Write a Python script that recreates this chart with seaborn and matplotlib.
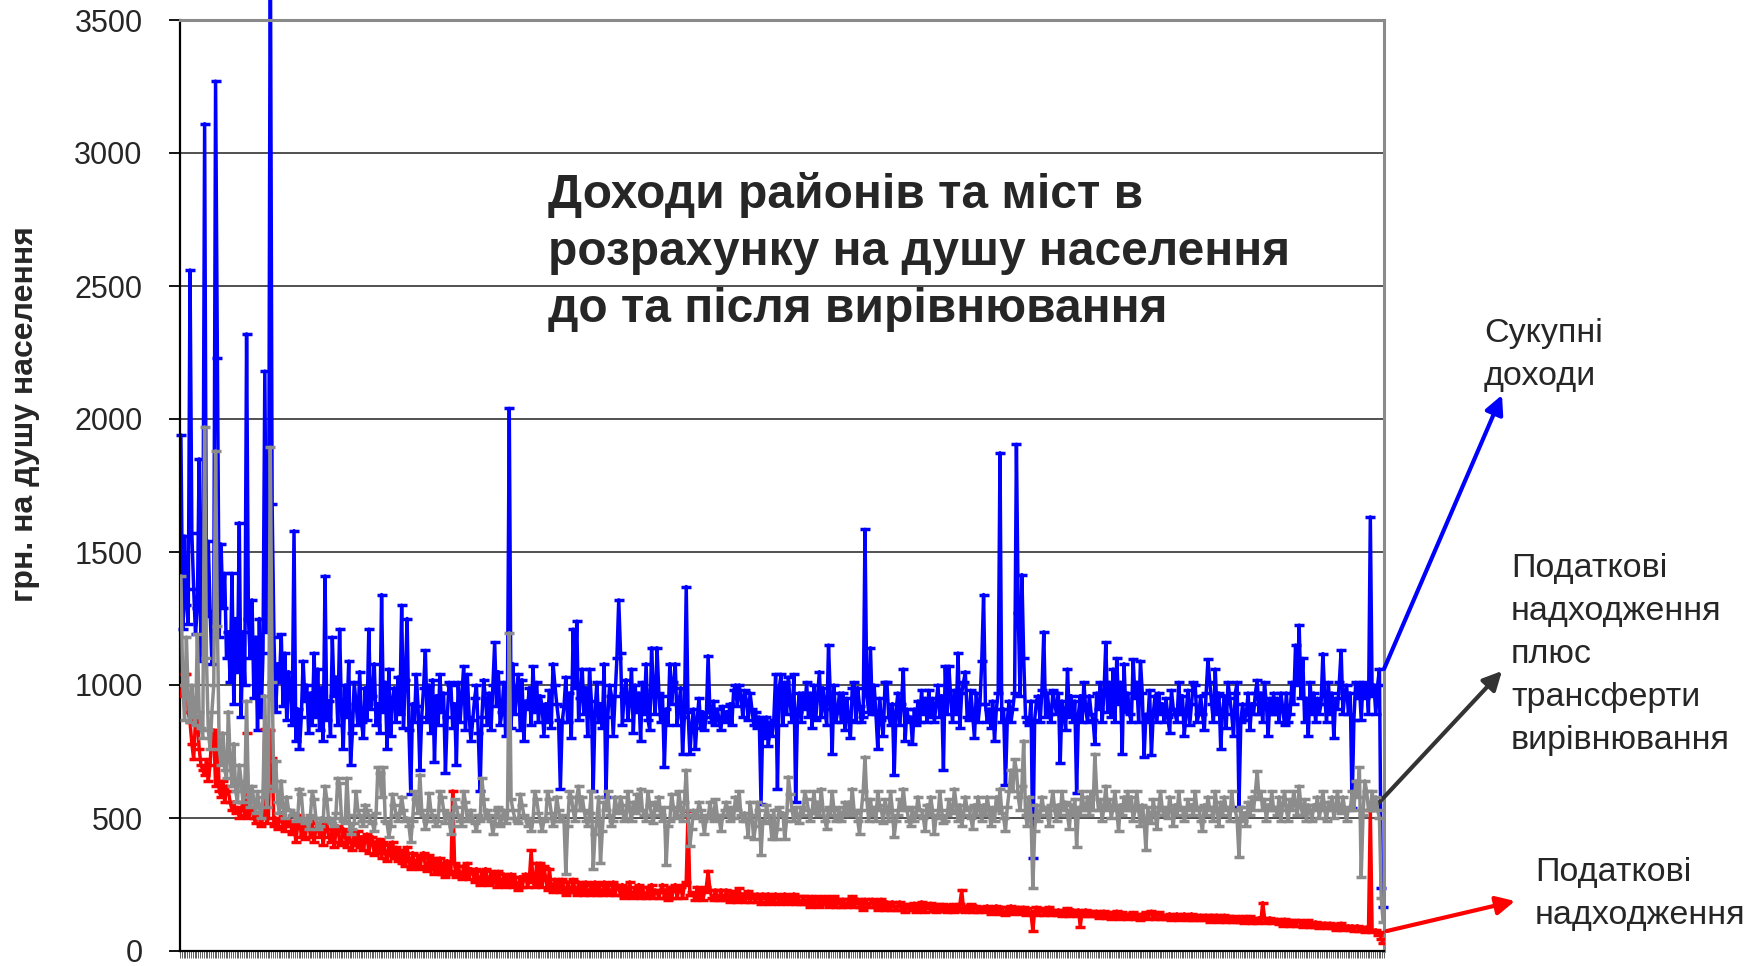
import numpy as np
import pandas as pd
import matplotlib
matplotlib.use("Agg")
import matplotlib.pyplot as plt
import seaborn as sns

# Per-capita revenues of districts and cities, UAH per person
total_income = [
    1940, 1210, 1560, 1300, 1230, 2560, 1570, 1360, 1190, 1290, 1850, 1090, 1320, 3110, 1260, 1540, 1280, 1080, 1250, 3270,
    2230, 1180, 1530, 1290, 1420, 1100, 1200, 1010, 1420, 930, 1250, 1050, 1610, 880, 1200, 1000, 2320, 1250, 1100, 1320,
    950, 1180, 830, 1250, 880, 1120, 2180, 1200, 1240, 3900, 1680, 1180, 900, 1080, 1010, 1190, 920, 1120, 870, 1050,
    980, 850, 1580, 790, 910, 760, 880, 1090, 940, 1000, 820, 970, 850, 1120, 880, 1060, 830, 990, 790, 1410,
    870, 940, 810, 1180, 960, 1030, 850, 1210, 910, 760, 1000, 880, 1090, 700, 820, 1010, 930, 850, 1050, 860,
    800, 990, 870, 1210, 910, 960, 1080, 850, 930, 820, 1340, 900, 1010, 760, 1060, 810, 940, 990, 860, 1030,
    890, 1300, 840, 1020, 1250, 830, 590, 930, 860, 1040, 920, 680, 880, 990, 1130, 860, 1000, 820, 1020, 710,
    960, 850, 1040, 900, 970, 670, 880, 1010, 1000, 840, 930, 700, 1010, 860, 960, 1070, 830, 1040, 880, 790,
    870, 950, 1000, 820, 600, 880, 1020, 940, 850, 970, 830, 1000, 1160, 920, 1050, 850, 900, 1010, 810, 960,
    2040, 840, 1080, 890, 970, 1040, 830, 1020, 790, 940, 910, 990, 850, 1070, 900, 1010, 860, 960, 920, 810,
    930, 860, 980, 840, 1080, 1000, 930, 870, 610, 860, 920, 1030, 860, 970, 800, 1210, 990, 1240, 870, 950,
    1060, 890, 990, 810, 1060, 940, 600, 900, 1010, 860, 930, 840, 1080, 580, 880, 1000, 960, 810, 960, 1100,
    1320, 1120, 850, 970, 1020, 870, 940, 1060, 820, 1000, 900, 970, 790, 1010, 890, 1080, 870, 830, 1140, 980,
    890, 1140, 970, 860, 960, 690, 910, 850, 1080, 930, 1010, 1080, 850, 930, 990, 740, 880, 1370, 900, 740,
    850, 910, 760, 870, 950, 840, 900, 830, 880, 1110, 900, 860, 940, 850, 910, 870, 830, 920, 860, 900,
    870, 930, 850, 980, 1000, 920, 1000, 960, 880, 980, 940, 870, 970, 910, 850, 900, 840, 880, 553, 870,
    800, 880, 770, 860, 810, 870, 1040, 610, 990, 1040, 850, 1010, 890, 1030, 930, 860, 1040, 560, 900, 970,
    860, 970, 910, 1010, 880, 970, 840, 1000, 870, 960, 1050, 880, 990, 910, 850, 1150, 960, 740, 1000, 860,
    900, 970, 860, 970, 830, 950, 870, 800, 990, 1010, 860, 990, 920, 860, 880, 1585, 960, 900, 1140, 890,
    1000, 890, 760, 950, 870, 810, 1010, 1010, 880, 850, 930, 660, 900, 970, 850, 930, 1060, 790, 910, 860,
    880, 780, 910, 850, 940, 860, 980, 890, 950, 860, 980, 880, 950, 860, 930, 1000, 880, 960, 680, 1070,
    890, 1070, 950, 860, 980, 890, 1120, 840, 970, 1010, 1050, 880, 870, 980, 890, 800, 970, 860, 930, 1090,
    1340, 930, 860, 910, 840, 940, 790, 910, 970, 1873, 860, 910, 623, 870, 940, 860, 910, 970, 1905, 1270,
    960, 1415, 1100, 880, 860, 850, 940, 350, 870, 940, 960, 860, 980, 1200, 880, 970, 890, 860, 980, 930,
    890, 970, 707, 940, 890, 830, 1060, 880, 960, 860, 940, 595, 890, 960, 860, 1010, 910, 860, 960, 890,
    870, 780, 970, 910, 1010, 860, 970, 1160, 900, 1010, 880, 1060, 860, 1100, 930, 1010, 742, 1080, 900, 970,
    890, 860, 1096, 950, 1010, 860, 1090, 970, 731, 890, 860, 980, 735, 890, 960, 860, 970, 890, 930, 860,
    950, 880, 820, 980, 910, 890, 860, 1010, 890, 960, 810, 890, 980, 850, 930, 1010, 1000, 860, 890, 960,
    890, 830, 970, 1096, 1010, 930, 860, 1060, 890, 970, 760, 900, 960, 840, 1010, 950, 890, 810, 970, 1010,
    540, 860, 930, 870, 890, 970, 830, 930, 890, 970, 1018, 890, 970, 860, 1010, 930, 810, 950, 890, 970,
    890, 950, 860, 970, 910, 850, 970, 860, 890, 1010, 930, 1150, 1000, 1225, 950, 1100, 860, 950, 810, 1010,
    890, 970, 860, 950, 890, 930, 1118, 960, 860, 1010, 890, 970, 800, 950, 910, 1010, 1130, 890, 970, 1000,
    890, 970, 539, 870, 1010, 950, 1000, 870, 1010, 950, 1000, 890, 1632, 960, 1000, 890, 1000, 1060, 238, 164,
]

tax_plus_transfers = [
    1410, 1000, 870, 1180, 960, 860, 1000, 880, 850, 1190, 900, 840, 800, 1970, 1100, 830, 760, 900, 1000, 1880,
    1220, 760, 700, 820, 680, 650, 900, 720, 620, 780, 600, 560, 700, 640, 560, 600, 940, 580, 540, 620,
    560, 520, 600, 540, 500, 580, 960, 540, 620, 1894, 1010, 600, 716, 560, 520, 640, 540, 500, 580, 530,
    530, 510, 520, 490, 500, 610, 590, 500, 480, 490, 460, 510, 600, 570, 500, 460, 470, 500, 490, 620,
    570, 490, 500, 480, 470, 520, 650, 630, 500, 490, 480, 650, 510, 440, 460, 480, 600, 530, 510, 490,
    470, 550, 530, 510, 490, 480, 450, 520, 690, 670, 580, 690, 490, 480, 430, 470, 590, 550, 510, 490,
    520, 580, 530, 490, 500, 470, 410, 490, 600, 570, 520, 663, 530, 510, 460, 490, 593, 530, 510, 490,
    470, 490, 600, 580, 530, 480, 520, 510, 440, 470, 570, 540, 510, 490, 470, 600, 560, 490, 500, 530,
    490, 480, 450, 510, 490, 650, 570, 500, 530, 510, 490, 440, 480, 530, 540, 470, 500, 530, 480, 500,
    1196, 570, 530, 500, 490, 480, 590, 550, 510, 500, 470, 490, 450, 490, 600, 570, 520, 490, 450, 490,
    500, 600, 570, 520, 470, 490, 580, 530, 490, 510, 490, 290, 470, 600, 580, 530, 490, 580, 620, 530,
    580, 530, 490, 470, 520, 600, 310, 440, 490, 580, 330, 450, 560, 530, 600, 510, 470, 490, 580, 530,
    520, 580, 550, 490, 500, 600, 530, 490, 560, 520, 590, 530, 610, 530, 510, 490, 600, 550, 510, 480,
    560, 530, 580, 510, 490, 540, 325, 470, 490, 590, 540, 500, 510, 600, 530, 490, 560, 680, 510, 395,
    460, 530, 500, 510, 560, 530, 490, 440, 510, 500, 560, 520, 490, 570, 510, 500, 450, 510, 530, 560,
    510, 490, 540, 500, 580, 530, 600, 510, 490, 520, 490, 430, 560, 510, 420, 470, 560, 530, 360, 490,
    480, 550, 510, 490, 420, 530, 420, 460, 540, 510, 520, 420, 490, 655, 590, 530, 490, 540, 510, 480,
    540, 510, 600, 570, 530, 490, 520, 600, 530, 560, 510, 610, 530, 490, 460, 540, 510, 600, 530, 490,
    500, 540, 490, 510, 560, 520, 560, 510, 610, 530, 520, 490, 440, 530, 600, 730, 570, 490, 570, 510,
    540, 490, 600, 550, 530, 480, 570, 530, 490, 600, 530, 430, 490, 510, 570, 530, 610, 540, 530, 490,
    470, 540, 490, 510, 580, 530, 530, 500, 450, 550, 510, 580, 530, 440, 510, 500, 600, 530, 480, 490,
    510, 570, 530, 520, 610, 550, 490, 550, 470, 510, 580, 530, 540, 500, 460, 550, 510, 580, 530, 490,
    550, 510, 580, 530, 470, 540, 490, 580, 530, 610, 520, 500, 450, 540, 600, 680, 600, 720, 680, 580,
    530, 620, 790, 510, 470, 580, 510, 238, 450, 550, 490, 510, 580, 530, 540, 510, 470, 550, 600, 530,
    490, 550, 510, 600, 530, 560, 510, 460, 550, 510, 570, 392, 540, 510, 600, 530, 530, 580, 510, 600,
    530, 740, 600, 530, 570, 490, 540, 620, 530, 570, 500, 540, 600, 530, 450, 550, 510, 580, 530, 600,
    530, 580, 490, 530, 600, 530, 470, 550, 490, 378, 540, 510, 480, 570, 520, 460, 540, 600, 530, 510,
    540, 500, 580, 530, 470, 550, 510, 600, 530, 540, 490, 510, 570, 530, 550, 510, 600, 530, 540, 490,
    450, 550, 510, 580, 530, 540, 490, 600, 530, 470, 560, 510, 580, 530, 540, 490, 600, 530, 530, 490,
    355, 540, 490, 520, 470, 560, 510, 580, 530, 600, 675, 570, 600, 530, 570, 490, 550, 530, 600, 530,
    540, 510, 580, 490, 550, 600, 530, 490, 570, 530, 600, 550, 510, 620, 540, 510, 570, 490, 550, 530,
    490, 550, 530, 580, 500, 540, 600, 530, 490, 560, 530, 580, 500, 540, 600, 530, 520, 580, 530, 490,
    540, 530, 600, 530, 640, 580, 690, 280, 510, 640, 600, 530, 530, 600, 530, 580, 530, 500, 200, 110,
]

tax_revenue = [
    960, 1000, 1040, 1040, 900, 860, 780, 720, 870, 880, 760, 700, 680, 660, 720, 640, 700, 830, 830, 620,
    820, 600, 580, 640, 560, 620, 600, 560, 530, 560, 520, 540, 500, 530, 560, 510, 820, 500, 520, 540,
    500, 480, 520, 500, 470, 510, 836, 480, 500, 830, 727, 470, 500, 460, 490, 520, 470, 450, 490, 470,
    490, 440, 480, 410, 470, 510, 430, 480, 420, 470, 490, 430, 480, 410, 460, 480, 430, 470, 400, 460,
    480, 430, 410, 460, 390, 450, 470, 410, 400, 460, 440, 390, 450, 410, 380, 440, 400, 450, 390, 430,
    380, 420, 440, 370, 410, 430, 360, 410, 370, 420, 350, 410, 370, 340, 400, 360, 410, 350, 390, 340,
    380, 330, 370, 320, 390, 340, 310, 370, 330, 320, 360, 310, 350, 370, 320, 300, 360, 310, 350, 290,
    340, 300, 350, 290, 330, 280, 340, 300, 290, 602, 330, 280, 320, 290, 270, 320, 280, 330, 270, 310,
    300, 260, 310, 270, 250, 300, 260, 310, 270, 250, 300, 260, 290, 240, 300, 260, 250, 290, 240, 280,
    250, 290, 240, 280, 250, 230, 280, 240, 270, 290, 240, 270, 378, 260, 240, 330, 250, 330, 240, 320,
    270, 230, 310, 240, 220, 270, 230, 260, 220, 270, 230, 210, 260, 230, 220, 270, 230, 210, 260, 220,
    250, 210, 260, 220, 210, 250, 220, 260, 210, 250, 220, 210, 260, 220, 250, 210, 220, 260, 210, 250,
    240, 210, 250, 200, 240, 210, 260, 210, 200, 240, 210, 250, 200, 240, 210, 200, 240, 210, 250, 200,
    230, 220, 200, 230, 250, 200, 230, 190, 240, 200, 230, 250, 200, 230, 240, 200, 250, 260, 525, 210,
    220, 210, 190, 240, 200, 230, 190, 220, 240, 300, 230, 200, 190, 230, 200, 190, 230, 200, 190, 230,
    210, 185, 225, 195, 215, 185, 235, 195, 215, 185, 200, 225, 185, 215, 200, 185, 215, 200, 175, 215,
    205, 185, 215, 175, 205, 185, 215, 200, 175, 205, 185, 215, 190, 175, 205, 185, 215, 175, 205, 185,
    175, 205, 190, 175, 205, 165, 195, 175, 205, 190, 165, 195, 175, 205, 180, 165, 195, 175, 205, 165,
    195, 180, 165, 195, 175, 165, 195, 175, 205, 165, 180, 195, 165, 185, 155, 195, 180, 165, 180, 195,
    165, 185, 155, 170, 195, 165, 155, 185, 170, 155, 185, 170, 155, 170, 185, 155, 170, 145, 175, 160,
    175, 155, 180, 145, 175, 155, 185, 165, 145, 175, 160, 180, 150, 170, 145, 175, 160, 150, 175, 160,
    145, 170, 155, 175, 145, 170, 150, 175, 228, 160, 145, 170, 150, 175, 145, 160, 170, 145, 165, 150,
    165, 145, 170, 150, 140, 165, 145, 170, 150, 140, 165, 145, 135, 165, 145, 170, 140, 160, 145, 165,
    155, 140, 165, 135, 160, 145, 140, 77, 150, 165, 135, 150, 160, 135, 155, 140, 165, 135, 155, 140,
    135, 155, 140, 130, 155, 135, 160, 130, 145, 155, 135, 130, 155, 91, 150, 130, 155, 135, 130, 150,
    140, 130, 150, 125, 145, 130, 150, 125, 145, 130, 120, 145, 125, 150, 130, 120, 145, 125, 140, 120,
    140, 125, 145, 120, 140, 125, 115, 140, 125, 145, 120, 140, 150, 125, 120, 140, 145, 120, 135, 130,
    120, 135, 140, 115, 135, 120, 140, 115, 135, 120, 140, 125, 115, 130, 140, 115, 135, 120, 115, 135,
    130, 115, 135, 120, 110, 135, 115, 130, 135, 110, 130, 115, 135, 110, 130, 115, 110, 130, 115, 110,
    125, 110, 130, 105, 125, 110, 130, 105, 125, 110, 105, 125, 110, 182, 125, 105, 115, 125, 105, 115,
    110, 120, 100, 115, 95, 120, 100, 115, 95, 105, 115, 95, 110, 115, 95, 90, 110, 95, 115, 90,
    105, 90, 110, 95, 85, 105, 90, 105, 85, 95, 105, 85, 100, 80, 100, 85, 105, 80, 95, 90,
    95, 80, 95, 75, 90, 95, 75, 90, 80, 70, 90, 80, 530, 70, 75, 80, 60, 70, 45, 30,
]

y_ticks = [0, 500, 1000, 1500, 2000, 2500, 3000, 3500]

title_lines = ["Доходи районів та міст в",
               "розрахунку на душу населення",
               "до та після вирівнювання"]
label_total = ["Сукупні", "доходи"]
label_equalized = ["Податкові", "надходження", "плюс", "трансферти", "вирівнювання"]
label_tax = ["Податкові", "надходження"]
y_title = "грн. на душу населення"

sns.set_style("white")
plt.rcParams["font.family"] = ["Liberation Sans", "DejaVu Sans"]

W, H = 1760, 966
fig = plt.figure(figsize=(W / 100, H / 100), dpi=100)
ax = fig.add_axes([180 / W, 15 / H, 1204 / W, 931 / H])

blue, red, grey = "#0000ff", "#ff0000", "#8c8c8c"
layers = [
    (total_income, blue, 2, False),
    (tax_revenue, red, 3, True),
    (tax_plus_transfers, grey, 4, True),
]
for vals, col, z, clip in layers:
    df = pd.DataFrame({"idx": np.arange(len(vals)), "val": vals})
    sns.lineplot(data=df, x="idx", y="val", ax=ax, color=col, lw=2.5,
                 marker="_", markersize=7.5, markeredgewidth=2.5,
                 markeredgecolor=col, estimator=None, errorbar=None,
                 zorder=z, clip_on=clip)

n = len(total_income)
ax.set_xlim(-0.5, n - 0.5)
ax.set_ylim(0, 3500)
ax.set_yticks(y_ticks)
ax.set_yticklabels([str(v) for v in y_ticks], fontsize=22)
ax.set_xticks(np.arange(n + 1) - 0.5)
ax.set_xticklabels([])
ax.set_xlabel("")
ax.set_ylabel("")
ax.tick_params(axis="x", direction="out", length=5, width=0.6,
               color="#444444", bottom=True)
ax.tick_params(axis="y", direction="out", length=8, width=1.3,
               color="black", pad=19, left=True)
ax.yaxis.grid(True, color="#222222", lw=1.1)
ax.xaxis.grid(False)
ax.set_axisbelow(True)
for side in ("left", "bottom"):
    ax.spines[side].set_color("black")
    ax.spines[side].set_linewidth(1.6)
for side in ("top", "right"):
    ax.spines[side].set_color("#8a8a8a")
    ax.spines[side].set_linewidth(2.2)

# vertical axis title
fig.text(25 / W, 1 - 414 / H, y_title, rotation=90, fontsize=23,
         fontweight="bold", ha="center", va="center")

# chart heading
for i, line in enumerate(title_lines):
    fig.text(548 / W, 1 - (208 + 57 * i) / H, line, fontsize=34.5,
             fontweight="bold", ha="left", va="baseline")

# series captions
def caption(lines, x_px, y0_px, step=43):
    for i, line in enumerate(lines):
        fig.text(x_px / W, 1 - (y0_px + step * i) / H, line, fontsize=24.5,
                 ha="left", va="baseline")

caption(label_total, 1484, 342)
caption(label_equalized, 1511, 577)
caption(label_tax, 1535, 881)

# pointers from series ends to captions
def pointer(start, tip_px, col):
    ax.annotate("", xy=(tip_px[0], H - tip_px[1]), xycoords="figure pixels",
                xytext=start, textcoords="data", annotation_clip=False,
                arrowprops=dict(arrowstyle="-|>", color=col, lw=3,
                                mutation_scale=28, shrinkA=0, shrinkB=0))

pointer((n - 0.5, total_income[-3]), (1502, 395), blue)
pointer((n - 5, 545), (1502, 671), "#333333")
pointer((n + 1, 75), (1515, 901), red)

fig.savefig("out.png", dpi=100)
